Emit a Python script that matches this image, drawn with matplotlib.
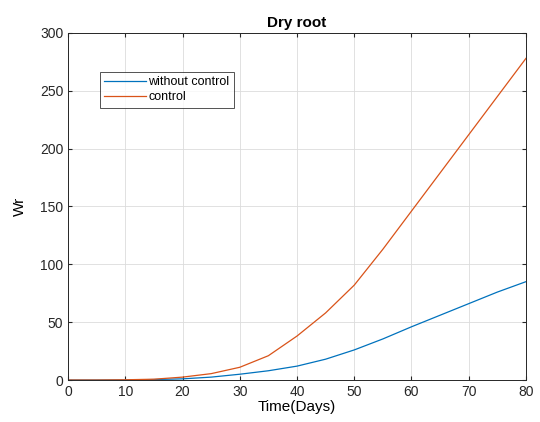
import numpy as np
import matplotlib.pyplot as plt

plt.rcParams['font.family'] = ['Liberation Sans', 'DejaVu Sans']

# values
days = [0, 5, 10, 15, 20, 25, 30, 35, 40, 45, 50, 55, 60, 65, 70, 75, 80]
wr_without = [0, 0, 0.1, 0.4, 1, 2.5, 5, 8, 12, 18, 26, 35.5, 46, 56, 66, 76, 85]
wr_control = [0, 0, 0.2, 0.7, 2.5, 5.5, 11, 21, 38, 58, 82, 113, 146, 179, 212, 245, 278]

fig = plt.figure(figsize=(5.4, 4.22), dpi=100)
ax = fig.add_axes([0.126, 0.0995, 0.848, 0.8225])

ax.plot(days, wr_without, color='#0072BD', lw=0.9, label='without control')
ax.plot(days, wr_control, color='#D95319', lw=0.9, label='control')

ax.set_xlim(0, 80)
ax.set_ylim(0, 300)
ax.set_xticks(np.arange(0, 81, 10))
ax.set_yticks(np.arange(0, 301, 50))
ax.grid(True, color='#dcdcdc', lw=0.6)
ax.tick_params(direction='in', top=True, right=True, labelsize=10, colors='#262626', length=3)
for s in ax.spines.values():
    s.set_color('#262626')
    s.set_linewidth(0.7)

ax.set_title('Dry root', fontsize=11, fontweight='bold', pad=4)
ax.set_xlabel('Time(Days)', fontsize=11, labelpad=1)
ax.set_ylabel('Wr', fontsize=11, labelpad=9)

leg = ax.legend(loc='upper left', bbox_to_anchor=(0.07, 0.888), borderaxespad=0,
                fontsize=9, frameon=True, fancybox=False, handlelength=3.3,
                handletextpad=0.2, borderpad=0.35, labelspacing=0.25)
leg.get_frame().set_edgecolor('#262626')
leg.get_frame().set_linewidth(0.7)

fig.savefig('out.png', dpi=100)
